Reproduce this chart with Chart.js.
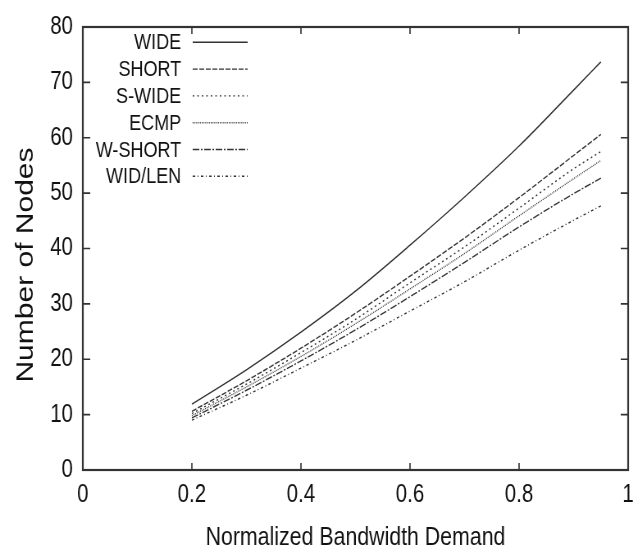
<!DOCTYPE html>
<html>
<head>
<meta charset="utf-8">
<script src="https://cdn.jsdelivr.net/npm/chart.js@4/dist/chart.umd.min.js"></script>
<style>
  html, body { margin: 0; padding: 0; background: #fff; overflow: hidden; }
  /* the original figure is squeezed sideways, so draw wide and squeeze */
  #wrap { width: 783px; height: 549px; transform: scaleX(0.82); transform-origin: 0 0; }
  #myChart { display: block; }
</style>
</head>
<body>
<div id="wrap"><canvas id="myChart" width="783" height="549"></canvas></div>
<script>
const demand = [0.2, 0.3, 0.4, 0.5, 0.6, 0.7, 0.8, 0.9, 0.95];

const wide    = [11.9, 18.1, 24.9, 32.3, 40.6, 49.3, 58.5, 68.6, 73.7];
const short   = [10.6, 16.1, 22.0, 28.3, 35.0, 41.9, 49.2, 56.8, 60.6];
const sWide   = [10.2, 15.5, 21.2, 27.2, 33.8, 40.3, 47.3, 54.4, 57.5];
const ecmp    = [9.8, 15.0, 20.5, 26.4, 32.7, 39.1, 45.9, 52.6, 55.9];
const wShort  = [9.4, 14.4, 19.7, 25.3, 31.3, 37.5, 43.9, 49.9, 52.7];
const widLen  = [9.0, 13.5, 18.4, 23.4, 28.7, 34.0, 39.7, 45.1, 47.7];

const seriesNames = ['WIDE', 'SHORT', 'S-WIDE', 'ECMP', 'W-SHORT', 'WID/LEN'];
const seriesValues = [wide, short, sWide, ecmp, wShort, widLen];
const dashes = [[], [6, 2], [2, 3.5], [1, 1.2], [8, 2, 2, 2], [3, 3, 1, 3]];

const xTicks = [0, 0.2, 0.4, 0.6, 0.8, 1];
const yTicks = [0, 10, 20, 30, 40, 50, 60, 70, 80];

const ink = '#333';
const txt = '#111';
const sans = "'Liberation Sans', Arial, sans-serif";

// gnuplot style key: text right aligned, line sample on its right
const keyPlugin = {
    id: 'key',
    afterDatasetsDraw(chart) {
        const c = chart.ctx;
        c.save();
        c.font = '22px ' + sans;
        c.fillStyle = txt;
        c.textAlign = 'right';
        c.textBaseline = 'middle';
        chart.data.datasets.forEach((ds, i) => {
            const y = 42.3 + i * 26.8;
            c.fillText(ds.label, 221, y + 1);
            c.beginPath();
            c.setLineDash(ds.borderDash);
            c.lineWidth = ds.borderWidth;
            c.strokeStyle = ds.borderColor;
            c.moveTo(235, y);
            c.lineTo(302, y);
            c.stroke();
        });
        c.restore();
    }
};

// inward tick marks on all four sides, frame, y title
const framePlugin = {
    id: 'frame',
    afterDraw(chart) {
        const c = chart.ctx, a = chart.chartArea;
        const xs = chart.scales.x, ys = chart.scales.y;
        c.save();
        c.strokeStyle = ink;
        c.lineWidth = 1.6;
        c.beginPath();
        xTicks.forEach(v => {
            const px = xs.getPixelForValue(v);
            c.moveTo(px, a.bottom); c.lineTo(px, a.bottom - 7);
            c.moveTo(px, a.top); c.lineTo(px, a.top + 7);
        });
        yTicks.forEach(v => {
            const py = ys.getPixelForValue(v);
            c.moveTo(a.left, py); c.lineTo(a.left + 9, py);
            c.moveTo(a.right, py); c.lineTo(a.right - 9, py);
        });
        c.stroke();
        c.lineWidth = 2.2;
        c.strokeRect(a.left, a.top, a.right - a.left, a.bottom - a.top);

        c.translate(32, 265);
        c.rotate(-Math.PI / 2);
        c.font = '30px ' + sans;
        c.fillStyle = txt;
        c.textAlign = 'center';
        c.textBaseline = 'middle';
        c.fillText('Number of Nodes', 0, 0);
        c.restore();
    }
};

const ctx = document.getElementById('myChart').getContext('2d');

const myChart = new Chart(ctx, {
    type: 'line',
    data: {
        datasets: seriesNames.map((name, i) => ({
            label: name,
            data: demand.map((d, j) => ({ x: d, y: seriesValues[i][j] })),
            borderColor: ink,
            borderWidth: 1.4,
            borderDash: dashes[i],
            pointRadius: 0,
            fill: false,
            cubicInterpolationMode: 'monotone'
        }))
    },
    options: {
        responsive: false,
        animation: false,
        layout: { padding: { left: 0, right: 17, top: 22, bottom: 0 } },
        plugins: {
            legend: { display: false },
            tooltip: { enabled: false }
        },
        scales: {
            x: {
                type: 'linear',
                min: 0,
                max: 1,
                afterBuildTicks: s => { s.ticks = xTicks.map(v => ({ value: v })); },
                afterFit: s => { s.height = 79; },
                grid: { display: false, drawTicks: false },
                border: { display: false },
                ticks: {
                    color: txt,
                    font: { family: sans, size: 25 },
                    padding: 10,
                    maxRotation: 0,
                    callback: v => (v === 0 || v === 1) ? String(v) : v.toFixed(1)
                },
                title: {
                    display: true,
                    text: 'Normalized Bandwidth Demand',
                    color: txt,
                    font: { family: sans, size: 26 },
                    padding: { top: 0, bottom: -4 }
                }
            },
            y: {
                min: 0,
                max: 80,
                afterBuildTicks: s => { s.ticks = yTicks.map(v => ({ value: v })); },
                afterFit: s => { s.width = 101; },
                grid: { display: false, drawTicks: false },
                border: { display: false },
                ticks: {
                    color: txt,
                    font: { family: sans, size: 25 },
                    padding: 12
                }
            }
        }
    },
    plugins: [keyPlugin, framePlugin]
});
</script>
</body>
</html>
